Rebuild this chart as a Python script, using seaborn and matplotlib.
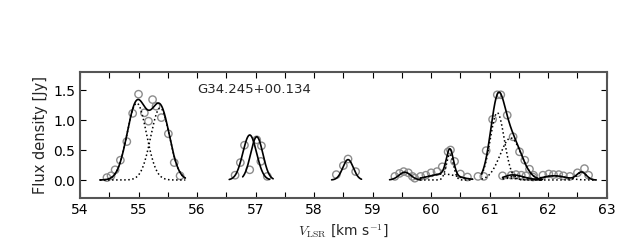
import numpy as np
import matplotlib
matplotlib.use("Agg")
import matplotlib.pyplot as plt
import seaborn as sns
from matplotlib.ticker import MultipleLocator

# measured channels (velocity, flux) for each spectrum
s1_v = [54.46, 54.53, 54.60, 54.69, 54.80, 54.90, 55.00, 55.10, 55.17, 55.24, 55.30, 55.39, 55.51, 55.61, 55.71]
s1_f = [0.04, 0.07, 0.17, 0.33, 0.64, 1.11, 1.43, 1.12, 0.98, 1.34, 1.23, 1.04, 0.77, 0.29, 0.07]
s2_v = [56.65, 56.74, 56.81, 57.02]
s2_f = [0.08, 0.29, 0.58, 0.67]
s3_v = [56.90, 57.09, 57.10, 57.20]
s3_f = [0.17, 0.31, 0.57, 0.06]
s4_v = [58.38, 58.50, 58.58, 58.71]
s4_f = [0.09, 0.24, 0.35, 0.14]
s5_v = [59.38, 59.46, 59.53, 59.61, 59.68, 59.72]
s5_f = [0.06, 0.11, 0.14, 0.12, 0.06, 0.03]
s6_v = [59.82, 59.91, 60.00, 60.10, 60.19, 60.29, 60.33, 60.40, 60.50, 60.62]
s6_f = [0.06, 0.08, 0.12, 0.14, 0.22, 0.47, 0.50, 0.31, 0.10, 0.05]
s7_v = [60.80, 60.90, 60.94, 61.05, 61.13, 61.19, 61.30, 61.40, 61.51, 61.60, 61.68, 61.75]
s7_f = [0.06, 0.06, 0.49, 1.01, 1.42, 1.42, 1.08, 0.72, 0.47, 0.33, 0.18, 0.08]
s8_v = [61.22, 61.37, 61.45, 61.54, 61.62, 61.74]
s8_f = [0.07, 0.08, 0.09, 0.08, 0.07, 0.05]
s9_v = [61.91, 62.01, 62.09, 62.18, 62.26, 62.37, 62.50, 62.62, 62.69]
s9_f = [0.08, 0.10, 0.09, 0.09, 0.07, 0.06, 0.12, 0.19, 0.08]

# gaussian fit components: (amplitude, centre, sigma) and velocity range of the fit
fit1 = [(1.28, 54.97, 0.165), (1.20, 55.37, 0.16)]
fit1_rng = (54.34, 55.80)
fit2 = [(0.75, 56.90, 0.117)]
fit2_rng = (56.55, 57.24)
fit3 = [(0.72, 57.02, 0.105)]
fit3_rng = (56.78, 57.30)
fit4 = [(0.34, 58.58, 0.09)]
fit4_rng = (58.30, 58.81)
fit5 = [(0.13, 59.55, 0.10)]
fit5_rng = (59.29, 59.81)
fit6 = [(0.43, 60.32, 0.06), (0.10, 60.20, 0.25)]
fit6_rng = (59.81, 60.71)
fit7 = [(1.12, 61.13, 0.12), (0.70, 61.36, 0.18)]
fit7_rng = (60.86, 61.90)
fit8 = [(0.06, 61.45, 0.18), (0.03, 61.35, 0.12)]
fit8_rng = (61.22, 61.88)
fit9 = [(0.07, 62.10, 0.20), (0.13, 62.57, 0.08)]
fit9_rng = (61.86, 62.82)

source = "G34.245+00.134"


def gauss(v, a, c, s):
    return a * np.exp(-(v - c) ** 2 / (2 * s ** 2))


sns.set_style("ticks")
plt.rcParams["font.family"] = ["DejaVu Sans"]
plt.rcParams["mathtext.fontset"] = "cm"

fig = plt.figure(figsize=(6.4, 2.4), dpi=100)
ax = fig.add_axes([0.125, 0.175, 0.823, 0.525])

spectra = [(s1_v, s1_f, fit1, fit1_rng), (s2_v, s2_f, fit2, fit2_rng),
           (s3_v, s3_f, fit3, fit3_rng), (s4_v, s4_f, fit4, fit4_rng),
           (s5_v, s5_f, fit5, fit5_rng), (s6_v, s6_f, fit6, fit6_rng),
           (s7_v, s7_f, fit7, fit7_rng), (s8_v, s8_f, fit8, fit8_rng),
           (s9_v, s9_f, fit9, fit9_rng)]

for v, f, comps, rng in spectra:
    sns.scatterplot(x=v, y=f, ax=ax, marker="o", s=28, facecolor="none",
                    edgecolor="#8c8c8c", linewidth=1.0, zorder=2)
    vv = np.linspace(rng[0], rng[1], 200)
    total = np.zeros_like(vv)
    for a, c, s in comps:
        g = gauss(vv, a, c, s)
        total += g
        if len(comps) > 1:
            ax.plot(vv, g, color="k", ls=":", lw=1.1, zorder=3)
    sns.lineplot(x=vv, y=total, ax=ax, color="k", lw=1.2, zorder=4)

ax.set_xlim(54, 63)
ax.set_ylim(-0.3, 1.8)
ax.xaxis.set_major_locator(MultipleLocator(1))
ax.xaxis.set_minor_locator(MultipleLocator(0.5))
ax.yaxis.set_major_locator(MultipleLocator(0.5))
ax.tick_params(which="both", direction="in", top=True, right=True, labelsize=10, colors="k")
ax.tick_params(which="major", length=4, width=0.8)
ax.tick_params(which="minor", length=4, width=0.8)
for sp in ax.spines.values():
    sp.set_color("#555555")
    sp.set_linewidth(1.5)

ax.set_xlabel(r"$V_{\rm LSR}$ [km s$^{-1}$]", fontsize=10)
ax.set_ylabel("Flux density [Jy]", fontsize=10.5)
ax.text(0.222, 0.865, source, transform=ax.transAxes, fontsize=9.5, va="center", ha="left")

fig.savefig("out.png", dpi=100)
